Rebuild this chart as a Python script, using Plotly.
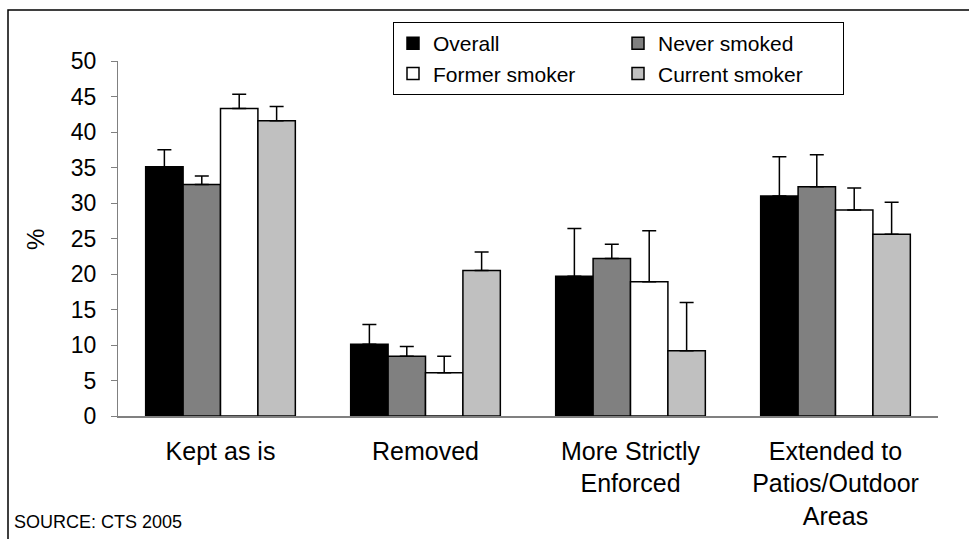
import plotly.graph_objects as go

categories = ["Kept as is", "Removed", "More Strictly<br>Enforced", "Extended to<br>Patios/Outdoor<br>Areas"]
series_names = ["Overall", "Never smoked", "Former smoker", "Current smoker"]
overall = [35.1, 10.1, 19.7, 31.0]
never_smoked = [32.6, 8.4, 22.2, 32.3]
former_smoker = [43.3, 6.1, 18.9, 29.0]
current_smoker = [41.6, 20.5, 9.2, 25.6]
overall_err = [2.4, 2.8, 6.7, 5.5]
never_err = [1.2, 1.4, 2.0, 4.5]
former_err = [2.0, 2.3, 7.2, 3.1]
current_err = [2.0, 2.6, 6.8, 4.5]
colors = ["#000000", "#808080", "#FFFFFF", "#C0C0C0"]
legend_columns = ["left", "right", "left", "right"]
y_ticks = [0, 5, 10, 15, 20, 25, 30, 35, 40, 45, 50]

values = [overall, never_smoked, former_smoker, current_smoker]
errors = [overall_err, never_err, former_err, current_err]

FONT = "Liberation Sans, Arial, sans-serif"
W, H = 969, 539
L, R, T, B = 118, 31, 61, 123

fig = go.Figure()
for name, vals, errs, col, grp in zip(series_names, values, errors, colors, legend_columns):
    fig.add_trace(go.Bar(
        name=name, x=categories, y=vals, legendgroup=grp,
        marker=dict(color=col, line=dict(color="black", width=1.5)),
        error_y=dict(type="data", symmetric=False, array=errs,
                     arrayminus=[0] * len(errs), color="black",
                     thickness=1.5, width=7),
    ))

pw = W - L - R
ph = H - T - B

def px_x(x):
    return (x - L) / pw

def px_y(y):
    return (H - B - y) / ph

fig.update_layout(
    width=W, height=H,
    margin=dict(l=L, r=R, t=T, b=B, autoexpand=False),
    paper_bgcolor="white", plot_bgcolor="white",
    barmode="group", bargap=0.27, bargroupgap=0,
    font=dict(family=FONT, size=23, color="black"),
    showlegend=True,
    legend=dict(
        orientation="h", x=px_x(393), y=px_y(22), xanchor="left", yanchor="top",
        bgcolor="white", bordercolor="black", borderwidth=1,
        font=dict(family=FONT, size=21, color="black"),
        entrywidth=180, entrywidthmode="pixels", traceorder="grouped",
        tracegroupgap=0, itemwidth=30,
    ),
    xaxis=dict(
        showline=True, linecolor="#808080", linewidth=1.5,
        ticks="", showgrid=False, tickfont=dict(size=25),
        ticklabelstandoff=12,
    ),
    yaxis=dict(
        range=[0, 50], tickvals=y_ticks, showline=True, linecolor="#808080",
        linewidth=1, ticks="outside", ticklen=6, tickcolor="#808080",
        showgrid=False, zeroline=False, tickfont=dict(size=23),
        ticklabelstandoff=10,
    ),
    shapes=[dict(
        type="rect", xref="paper", yref="paper",
        x0=px_x(8), x1=px_x(990), y0=px_y(10), y1=px_y(560),
        line=dict(color="black", width=1.5), fillcolor="rgba(0,0,0,0)", layer="above",
    )],
    annotations=[
        dict(text="%", xref="paper", yref="paper", x=px_x(35), y=px_y(240),
             textangle=-90, showarrow=False, font=dict(size=24),
             xanchor="center", yanchor="middle"),
        dict(text="SOURCE: CTS 2005", xref="paper", yref="paper",
             x=px_x(12), y=px_y(522), xanchor="left", yanchor="middle",
             showarrow=False, font=dict(size=18)),
    ],
)

fig.write_html("out.html")
